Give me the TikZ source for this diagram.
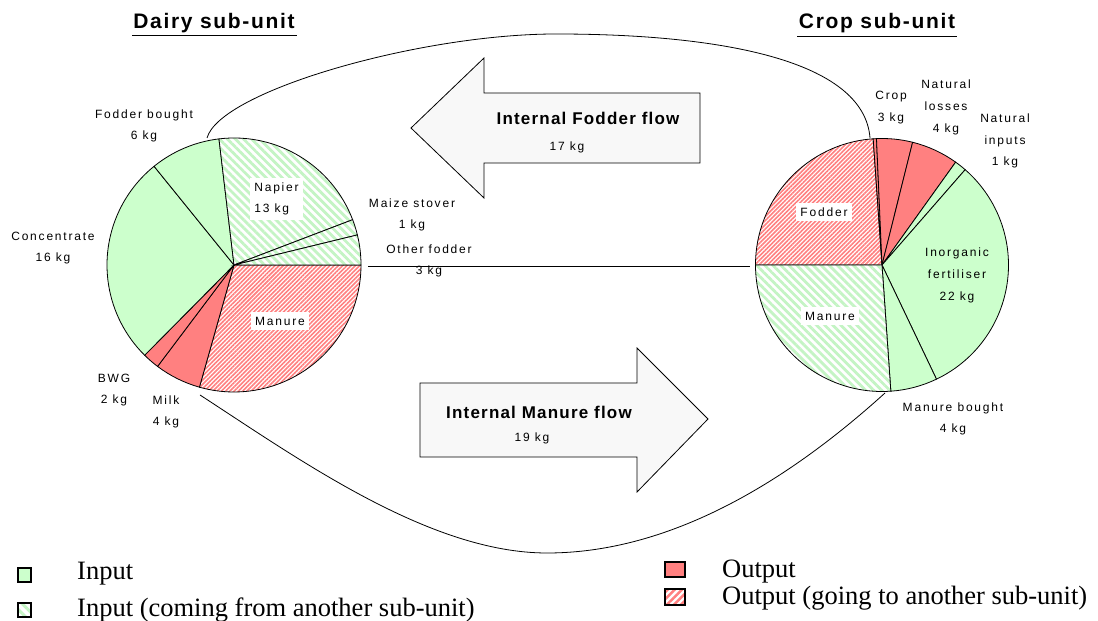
\documentclass[tikz,border=0pt]{standalone}
\usepackage{fontspec}
\setmainfont{Liberation Serif}
\newfontfamily\labfont[LetterSpace=15]{Liberation Sans}
\newfontfamily\titlefont[LetterSpace=8]{Liberation Sans}
\newfontfamily\flowfont[LetterSpace=7]{Liberation Sans}
\usetikzlibrary{patterns.meta}
\definecolor{ingreen}{HTML}{CCFFCC}
\definecolor{hatchgreen}{HTML}{C4F4C4}
\definecolor{outred}{HTML}{FF8080}
\definecolor{arrowgray}{HTML}{F8F8F8}
\newcommand\myslice[5]{\path[#1] (#2) -- ++(#3:#5) arc[start angle=#3,end angle=#4,radius=#5] -- cycle;}
\tikzset{
  slicein/.style={draw=black,line width=0.8pt,fill=ingreen},
  sliceout/.style={draw=black,line width=0.8pt,fill=outred},
  slicehin/.style={preaction={fill=white},draw=black,line width=0.8pt,
    pattern={Lines[angle=-45,distance=5.7pt,line width=2.8pt]},pattern color=hatchgreen},
  slicehout/.style={preaction={fill=white},draw=black,line width=0.8pt,
    pattern={Lines[angle=45,distance=3pt,line width=1.6pt]},pattern color=outred},
  lab/.style={font=\labfont\fontsize{12}{21.7}\selectfont,align=center,inner sep=0pt},
  boxlab/.style={font=\labfont\fontsize{12}{21.7}\selectfont,fill=white,inner xsep=4pt,inner ysep=5pt},
  ttl/.style={font=\titlefont\bfseries\fontsize{21}{24}\selectfont,inner sep=0pt},
  flowtxt/.style={font=\flowfont\bfseries\fontsize{17}{19}\selectfont,inner sep=0pt},
  flowarrow/.style={draw=black,line width=0.8pt,fill=arrowgray},
  link/.style={draw=black,line width=0.8pt},
  legbox/.style={draw=black,line width=1.4pt},
  legtxt/.style={font=\fontsize{26.5}{30}\selectfont,anchor=base west,inner sep=0pt}
}
\begin{document}
\begin{tikzpicture}[x=1pt,y=1pt]
\useasboundingbox (0,0) rectangle (1098,621);
\coordinate (dairy) at (234,356);
\coordinate (crop) at (882,356);

% flow arrows
\path[flowarrow] (411,493) -- (484,563) -- (484,528) -- (700,528) -- (700,458) -- (484,458) -- (484,423) -- cycle;
\path[flowarrow] (420,238) -- (637,238) -- (637,273) -- (708,202) -- (637,129) -- (637,164) -- (420,164) -- cycle;
\node[flowtxt] (ffl) at (588,503) {Internal Fodder flow};
\node[lab] (ffk) at (567,474) {17 kg};
\node[flowtxt] (mfl) at (539,209) {Internal Manure flow};
\node[lab] (mfk) at (532,183) {19 kg};

% dairy pie
\myslice{slicehout}{dairy}{-105.8}{0}{127pt}
\myslice{sliceout}{dairy}{-127}{-105.8}{127pt}
\myslice{sliceout}{dairy}{-134.7}{-127}{127pt}
\myslice{slicein}{dairy}{129}{225.3}{127pt}
\myslice{slicein}{dairy}{96.8}{129}{127pt}
\myslice{slicehin}{dairy}{20.9}{96.8}{127pt}
\myslice{slicehin}{dairy}{13.7}{20.9}{127pt}
\myslice{slicehin}{dairy}{0}{13.7}{127pt}

% crop pie
\myslice{slicehout}{crop}{94}{180}{126.5pt}
\myslice{sliceout}{crop}{92.5}{94}{126.5pt}
\myslice{sliceout}{crop}{76}{92.5}{126.5pt}
\myslice{sliceout}{crop}{54.4}{76}{126.5pt}
\myslice{slicein}{crop}{48.9}{54.4}{126.5pt}
\myslice{slicein}{crop}{-64.5}{48.9}{126.5pt}
\myslice{slicein}{crop}{-86}{-64.5}{126.5pt}
\myslice{slicehin}{crop}{-180}{-86}{126.5pt}

% titles
\node[ttl] (dt) at (214,598) {Dairy sub-unit};
\draw[line width=1.8pt] (132,585.5) -- (297,585.5);
\node[ttl] (ct) at (877,598) {Crop sub-unit};
\draw[line width=1.8pt] (797,584.5) -- (957,584.5);

% dairy labels
\node[lab] (fb) at (144,495) {Fodder bought\\6 kg};
\node[boxlab,align=left] (nap) at (276.5,422) {Napier\\13 kg};
\node[lab] (conc) at (53,373) {Concentrate\\16 kg};
\node[boxlab] (dman) at (280,300) {Manure};
\node[lab] (bwg) at (114,231) {BWG\\2 kg};
\node[lab] (milk) at (166,209) {Milk\\4 kg};
\node[lab] (maize) at (412,406) {Maize stover\\1 kg};
\node[lab] (oth) at (429,360) {Other fodder\\3 kg};

% crop labels
\node[lab] (cropl) at (891,513.5) {Crop\\3 kg};
\node[lab] (nl) at (946,513.5) {Natural\\losses\\4 kg};
\node[lab] (ni) at (1005,480) {Natural\\inputs\\1 kg};
\node[boxlab] (cfod) at (824,409) {Fodder};
\node[lab] (inf) at (957,345.5) {Inorganic\\fertiliser\\22 kg};
\node[boxlab] (cman) at (830,305) {Manure};
\node[lab] (mb) at (953,202) {Manure bought\\4 kg};

% connectors
\coordinate (fdA) at (207,483);
\coordinate (fdP) at (556,587);
\coordinate (fdB) at (870,483);
\draw[link] (fdA) .. controls (220,530) and (420,587) .. (fdP) .. controls (720,587) and (864,561) .. (fdB);
\coordinate (mnA) at (200,226);
\coordinate (mnP) at (547,68);
\coordinate (mnB) at (885,228);
\draw[link] (mnA) .. controls (300,161) and (430,68) .. (mnP) .. controls (680,68) and (800,151) .. (mnB);
\coordinate (hA) at (368,355);
\coordinate (hB) at (750,355);
\draw[link] (hA) -- (hB);

% legend
\path[legbox,fill=ingreen] (18,39) rectangle (31,53);
\path[legbox,preaction={fill=white},pattern={Lines[angle=-45,distance=7pt,line width=3pt]},pattern color=hatchgreen] (18,4) rectangle (31,18);
\path[legbox,fill=outred] (665,44) rectangle (685,59);
\path[legbox,preaction={fill=white},pattern={Lines[angle=45,distance=5pt,line width=2.5pt]},pattern color=outred] (665,16) rectangle (685,32);
\node[legtxt] (l1) at (77,41) {Input};
\node[legtxt] (l2) at (77,4) {Input (coming from another sub-unit)};
\node[legtxt] (l3) at (722,43) {Output};
\node[legtxt] (l4) at (722,16) {Output (going to another sub-unit)};
\end{tikzpicture}
\end{document}
